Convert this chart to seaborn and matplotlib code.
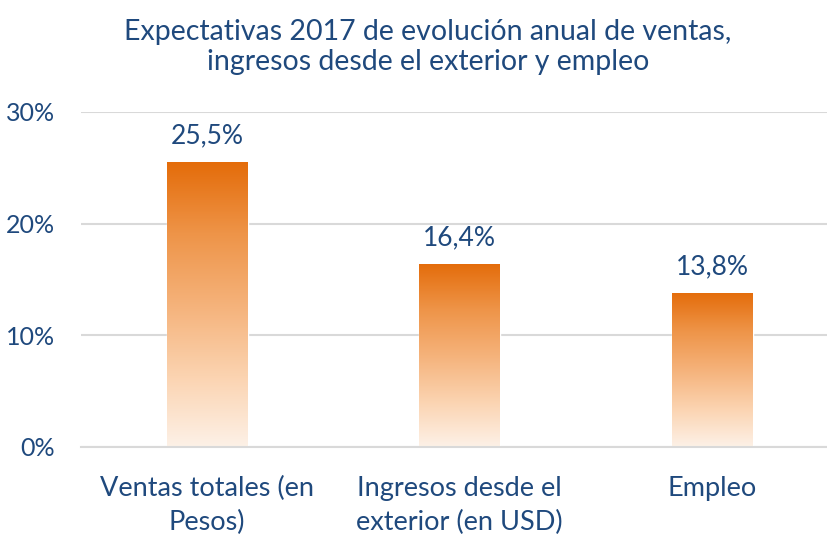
import matplotlib
matplotlib.use("Agg")
import matplotlib.pyplot as plt
import seaborn as sns
import numpy as np
import pandas as pd
from matplotlib.colors import LinearSegmentedColormap

categories = ["Ventas totales (en\nPesos)", "Ingresos desde el\nexterior (en USD)", "Empleo"]
values = [25.5, 16.4, 13.8]
value_labels = ["25,5%", "16,4%", "13,8%"]
yticks = [0, 10, 20, 30]
ytick_labels = ["0%", "10%", "20%", "30%"]
title = "Expectativas 2017 de evolución anual de ventas,\ningresos desde el exterior y empleo"

sns.set_theme(style="white")
plt.rcParams['font.family'] = ['Lato', 'DejaVu Sans']

blue = "#1F497D"
grid = "#D9D9D9"

df = pd.DataFrame({"cat": categories, "val": values})

fig = plt.figure(figsize=(8.28, 5.36), dpi=100)
ax = fig.add_axes([81/828, 89/536, 757.5/828, 335/536])

sns.barplot(data=df, x="cat", y="val", ax=ax, width=0.32, color="#E46C0A", saturation=1)
ax.set_ylim(0, 30)
ax.set_xlim(-0.5, 2.5)

cmap = LinearSegmentedColormap.from_list("g", ["#FDF1E7", "#FBD3B0", "#F5B27A", "#EE9448", "#E46C0A"])
grad = np.linspace(0, 1, 256).reshape(-1, 1)
for p in ax.patches:
    x0, y0 = p.get_x(), p.get_y()
    w, h = p.get_width(), p.get_height()
    im = ax.imshow(grad, extent=[x0, x0 + w, y0, y0 + h], origin="lower", cmap=cmap,
                   aspect="auto", zorder=p.get_zorder() + 0.1)
    im.set_clip_path(p)
    p.set_facecolor("none")
ax.set_xlim(-0.5, 2.5)
ax.set_ylim(0, 30)

for i, (v, lab) in enumerate(zip(values, value_labels)):
    ax.annotate(lab, (i, v), xytext=(0, 10), textcoords="offset points", ha="center",
                va="bottom", fontsize=19, color=blue)

ax.set_yticks(yticks)
ax.set_yticklabels(ytick_labels, fontsize=18, color=blue)
ax.yaxis.grid(True, color=grid, linewidth=1.5)
ax.set_axisbelow(True)
ax.tick_params(axis="y", length=0, pad=19)

ax.set_xticks(range(len(categories)))
ax.set_xticklabels(categories, fontsize=19.5, color=blue, linespacing=1.45)
ax.tick_params(axis="x", which="major", length=0, pad=21)
ax.set_xticks([-0.5, 0.5, 1.5, 2.5], minor=True)
ax.tick_params(axis="x", which="minor", length=8, color=grid, width=1.5)

for s in ["top", "right", "left"]:
    ax.spines[s].set_visible(False)
ax.spines["bottom"].set_color(grid)
ax.spines["bottom"].set_linewidth(1.5)
ax.set_xlabel("")
ax.set_ylabel("")

fig.text(428/828, 1 - 47/536, title, ha="center", va="center", fontsize=20.5, color=blue, linespacing=1.15)

fig.savefig("out.png", dpi=100)
